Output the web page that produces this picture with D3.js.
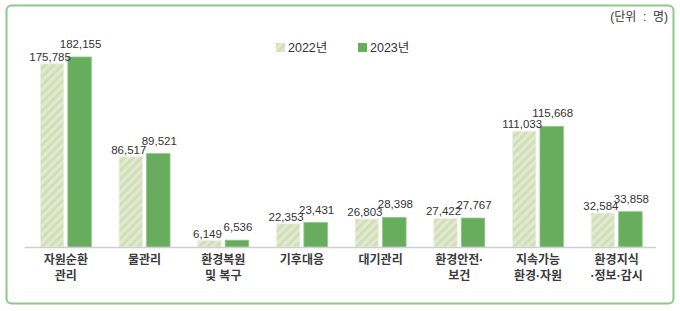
<!DOCTYPE html>
<html>
<head>
<meta charset="utf-8">
<script src="https://cdn.jsdelivr.net/npm/d3@7"></script>
<style>
  body { margin: 0; background: #fff; }
  text { font-family: "Liberation Sans", "Noto Sans CJK KR", sans-serif; }
</style>
</head>
<body>
<div id="chart"></div>
<script>
var categories = [
	["자원순환", "관리"],
	["물관리"],
	["환경복원", "및 복구"],
	["기후대응"],
	["대기관리"],
	["환경안전·", "보건"],
	["지속가능", "환경·자원"],
	["환경지식", "·정보·감시"]
];
var seriesNames = ["2022년", "2023년"];
var values2022 = [175785, 86517, 6149, 22353, 26803, 27422, 111033, 32584];
var values2023 = [182155, 89521, 6536, 23431, 28398, 27767, 115668, 33858];
var unitLabel = "(단위  :  명)";

var width = 680, height = 311;
var baseY = 247, topY = 57;
var colorNew = "#68ad5e";
var frameColor = "#8dc789";

var svg = d3.select("#chart").append("svg")
	.attr("width", width)
	.attr("height", height);

// hatch for 2022
var defs = svg.append("defs");
var pat = defs.append("pattern")
	.attr("id", "hatch")
	.attr("patternUnits", "userSpaceOnUse")
	.attr("width", 6)
	.attr("height", 6)
	.attr("patternTransform", "rotate(45)");
pat.append("rect").attr("width", 6).attr("height", 6).attr("fill", "#e3e6df");
pat.append("rect").attr("width", 3).attr("height", 6).attr("fill", "#cfe3a8");

// frame
svg.append("rect")
	.attr("x", 6.5).attr("y", 5.5)
	.attr("width", 667).attr("height", 298)
	.attr("rx", 5)
	.attr("fill", "none")
	.attr("stroke", frameColor)
	.attr("stroke-width", 2);

var x = d3.scaleBand()
	.domain(d3.range(categories.length))
	.range([26.5, 656])
	.padding(0);

var y = d3.scaleLinear()
	.domain([0, 182155])
	.range([baseY, topY]);

var barW = 23.5, gap = 2;

var groups = svg.selectAll("g.grp")
	.data(categories)
	.enter()
	.append("g")
	.attr("class", "grp")
	.attr("transform", function(d, i) {
		return "translate(" + (x(i) + x.bandwidth() / 2) + ",0)";
	});

// 2022 bars
groups.append("rect")
	.attr("x", -gap - barW)
	.attr("y", function(d, i) { return y(values2022[i]); })
	.attr("width", barW)
	.attr("height", function(d, i) { return baseY - y(values2022[i]); })
	.attr("fill", "url(#hatch)")
	.attr("stroke", "#eef0ea")
	.attr("stroke-width", 0.8);

// 2023 bars
groups.append("rect")
	.attr("x", gap)
	.attr("y", function(d, i) { return y(values2023[i]); })
	.attr("width", barW)
	.attr("height", function(d, i) { return baseY - y(values2023[i]); })
	.attr("fill", colorNew)
	.attr("stroke", "#8fc887")
	.attr("stroke-width", 0.8);

// value labels
groups.append("text")
	.attr("x", -gap - barW / 2 - 2)
	.attr("y", function(d, i) { return y(values2022[i]) - 3; })
	.attr("text-anchor", "middle")
	.style("font-size", "11.5px")
	.style("fill", "#333")
	.text(function(d, i) { return d3.format(",")(values2022[i]); });

groups.append("text")
	.attr("x", gap + barW / 2 + 1)
	.attr("y", function(d, i) { return y(values2023[i]) - 9; })
	.attr("text-anchor", "middle")
	.style("font-size", "11.5px")
	.style("fill", "#333")
	.text(function(d, i) { return d3.format(",")(values2023[i]); });

// axis line
svg.append("line")
	.attr("x1", x.range()[0] - 2).attr("x2", x.range()[1])
	.attr("y1", baseY + 0.5).attr("y2", baseY + 0.5)
	.attr("stroke", "#cfcfcf")
	.attr("stroke-width", 1.5);

// category labels
groups.each(function(d) {
	var t = d3.select(this).append("text")
		.attr("text-anchor", "middle")
		.style("font-size", "12px")
		.style("font-weight", "bold")
		.style("fill", "#3a3a3a");
	d.forEach(function(line, k) {
		t.append("tspan")
			.attr("x", 0)
			.attr("y", 264 + k * 16)
			.text(line);
	});
});

// legend
var legend = svg.append("g")
	.selectAll("g")
	.data(seriesNames)
	.enter()
	.append("g")
	.attr("transform", function(d, i) {
		return "translate(" + (276 + i * 82) + ",43)";
	});
legend.append("rect")
	.attr("width", 9)
	.attr("height", 9)
	.attr("fill", function(d, i) { return i === 0 ? "url(#hatch)" : colorNew; });
legend.append("text")
	.attr("x", 12)
	.attr("y", 9)
	.style("font-size", "12.5px")
	.style("fill", "#333")
	.text(function(d) { return d; });

svg.append("text")
	.attr("x", 668)
	.attr("y", 21)
	.attr("text-anchor", "end")
	.style("font-size", "12px")
	.style("fill", "#333")
	.style("white-space", "pre")
	.text(unitLabel);
</script>
</body>
</html>
